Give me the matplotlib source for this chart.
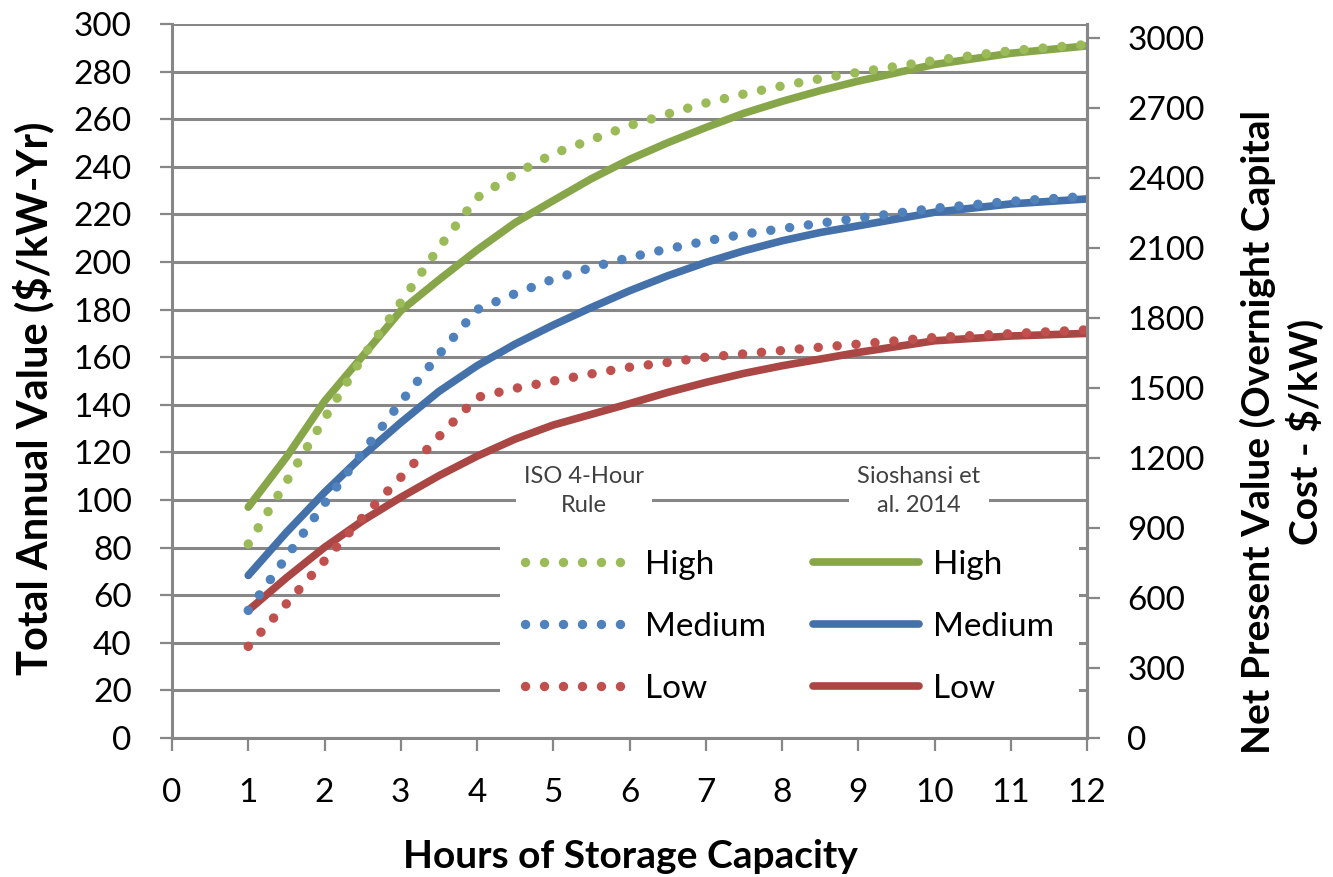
import matplotlib.pyplot as plt

plt.rcParams['font.family'] = ['Lato', 'DejaVu Sans']

hours = [1, 1.5, 2, 2.5, 3, 3.5, 4, 4.5, 5, 5.5, 6, 6.5, 7, 7.5, 8, 8.5, 9, 10, 11, 12]

# ISO 4-hour rule ($/kW-yr)
iso_high = [81.5, 107.7, 134.3, 160, 183, 206, 227, 237, 245.5, 251.4, 257.3, 262.2,
            266.8, 270.6, 274, 277, 279.7, 284.7, 288.8, 291.4]
iso_medium = [53.6, 76, 98.6, 120.1, 141.1, 161.1, 180, 186.7, 192.8, 197.7, 201.9, 205.5,
              208.8, 211.7, 214, 216.3, 218.4, 222.6, 225.5, 227.6]
iso_low = [38.5, 56.4, 74.5, 92.7, 109.5, 126.6, 143.1, 146.9, 150, 153, 155.8, 157.8,
           160, 161.4, 162.8, 164.2, 165.5, 168.3, 169.9, 171.5]

# Sioshansi et al. 2014 ($/kW-yr)
sio_high = [97, 118, 141.5, 160.5, 179.5, 192.5, 205, 216.5, 225.8, 235, 243.1, 250.1,
            256.5, 262.5, 267.5, 272, 276, 283, 287.7, 290.8]
sio_medium = [68.3, 86.4, 103.2, 118.6, 132.5, 145.6, 156.4, 165.5, 173.5, 180.9, 187.9, 194.2,
              199.8, 204.7, 208.9, 212.4, 215.2, 220.9, 224.4, 226.5]
sio_low = [53.6, 67.3, 80.1, 91.3, 101.1, 110.2, 118.4, 125.6, 131.5, 136, 140.5, 145.2,
           149.4, 153.2, 156.4, 159.2, 162, 166.9, 168.9, 170]

levels = ['High', 'Medium', 'Low']
dot_colors = ['#9BBB59', '#4F81BD', '#C0504D']
solid_colors = ['#87A64A', '#4471A9', '#AA4643']

npv_factor = 10.2  # annual value -> NPV of overnight capital cost
grid_gray = '#878787'

fig = plt.figure(figsize=(13.33, 8.77), dpi=100)
ax = fig.add_axes([172 / 1333, 1 - 738 / 877, 915 / 1333, 714 / 877])

solid_lines = []
for vals, c in zip([sio_high, sio_medium, sio_low], solid_colors):
    ln, = ax.plot(hours, vals, color=c, lw=5.5, solid_capstyle='round',
                  solid_joinstyle='round', zorder=3)
    solid_lines.append(ln)

dot_lines = []
for vals, c in zip([iso_high, iso_medium, iso_low], dot_colors):
    ln, = ax.plot(hours, vals, color=c, lw=6.8, linestyle=(0, (0.01, 2.0)),
                  dash_capstyle='round', zorder=4)
    dot_lines.append(ln)

ax.set_xlim(0, 12)
ax.set_ylim(0, 300)
ax.set_xticks(range(0, 13))
ax.set_yticks(range(0, 301, 20))
ax.yaxis.grid(True, color=grid_gray, lw=2.2)
ax.set_axisbelow(True)
ax.tick_params(axis='both', labelsize=24, length=9, width=1.6, color=grid_gray,
               pad=20, direction='out')
for side in ['left', 'bottom', 'right', 'top']:
    ax.spines[side].set_color(grid_gray)
    ax.spines[side].set_linewidth(2.2)
ax.spines['top'].set_visible(False)

ax2 = ax.twinx()
ax2.set_ylim(0, 300 * npv_factor)
ax2.set_yticks(range(0, 3001, 300))
ax2.tick_params(axis='y', labelsize=24, length=9, width=1.6, color=grid_gray,
                pad=20, direction='out')
for side in ['left', 'bottom', 'right', 'top']:
    ax2.spines[side].set_visible(False)
ax2.spines['right'].set_visible(True)
ax2.spines['right'].set_color(grid_gray)
ax2.spines['right'].set_linewidth(2.2)

fig.text(33 / 1333, 1 - 398 / 877, 'Total Annual Value ($/kW-Yr)', rotation=90,
         ha='center', va='center', fontsize=30, fontweight='bold')
fig.text(1282 / 1333, 1 - 432 / 877, 'Net Present Value (Overnight Capital\nCost - $/kW)',
         rotation=90, ha='center', va='center', fontsize=28, fontweight='bold',
         multialignment='center', linespacing=1.3)
fig.text(630 / 1333, 1 - 856 / 877, 'Hours of Storage Capacity', ha='center',
         va='center', fontsize=28, fontweight='bold')

leg = ax2.legend(dot_lines + solid_lines, levels + levels, ncol=2,
                 loc='upper left', bbox_to_anchor=(500 / 1333, 1 - 525 / 877),
                 bbox_transform=fig.transFigure, borderaxespad=0, fontsize=24,
                 handlelength=3.2, handletextpad=0.4, columnspacing=1.4,
                 labelspacing=0.96, borderpad=0.75, frameon=True, fancybox=False)
leg.get_frame().set_facecolor('white')
leg.get_frame().set_edgecolor('none')
leg.get_frame().set_alpha(1)

for cx, txt in [(584, 'ISO 4-Hour\nRule'), (919, 'Sioshansi et\nal. 2014')]:
    fig.text(cx / 1333, 1 - 491 / 877, txt, ha='center', va='center', fontsize=17,
             color='#404040', linespacing=1.45,
             bbox=dict(facecolor='white', edgecolor='none', pad=6), zorder=5)

fig.savefig('out.png', dpi=100)
